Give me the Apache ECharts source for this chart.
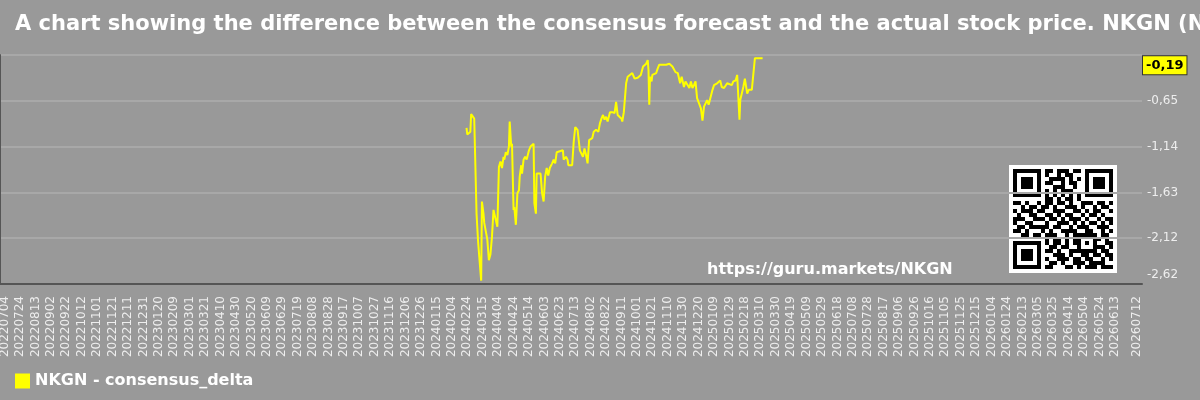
<!DOCTYPE html>
<html>
<head>
<meta charset="utf-8">
<script src="https://cdn.jsdelivr.net/npm/echarts@6/dist/echarts.min.js"></script>
<style>
  html, body { margin: 0; padding: 0; background: #999999; }
  #main { width: 1200px; height: 400px; }
</style>
</head>
<body>
<div id="main"></div>
<script>
// x axis: every calendar day; labels every 20 days from firstLabel, plus lastLabel
const startDay = "20220628";
const endDay = "20260718";
const firstLabel = "20220704";
const lastLabel = "20260712";

// consensus delta (date, value)
const deltaDates = [
  "20240223","20240224","20240228","20240229","20240304","20240306","20240307","20240309","20240311","20240313",
  "20240314","20240316","20240317","20240319","20240321","20240323","20240325","20240327","20240329","20240330",
  "20240401","20240403","20240405","20240407","20240409","20240411","20240412","20240414","20240416","20240418",
  "20240419","20240421","20240422","20240424","20240425","20240427","20240429","20240501","20240502","20240504",
  "20240505","20240507","20240509","20240511","20240514","20240516","20240518","20240520","20240521","20240523",
  "20240524","20240526","20240529","20240531","20240602","20240604","20240606","20240608","20240610","20240613",
  "20240615","20240617","20240619","20240623","20240627","20240628","20240701","20240703","20240704","20240706",
  "20240709","20240711","20240713","20240716","20240717","20240719","20240721","20240723","20240725","20240727",
  "20240729","20240731","20240802","20240804","20240806","20240808","20240809","20240812","20240814","20240816",
  "20240818","20240820","20240822","20240824","20240827","20240830","20240902","20240904","20240906","20240908",
  "20240911","20240912","20240914","20240915","20240917","20240919","20240921","20240925","20240928","20240930",
  "20241002","20241004","20241006","20241009","20241011","20241013","20241015","20241016","20241017","20241018",
  "20241020","20241021","20241023","20241026","20241028","20241030","20241101","20241103","20241108","20241110",
  "20241112","20241114","20241116","20241118","20241120","20241123","20241125","20241126","20241128","20241129",
  "20241201","20241203","20241205","20241208","20241210","20241212","20241214","20241216","20241218","20241220",
  "20241223","20241225","20241227","20241229","20241231","20250102","20250104","20250107","20250109","20250111",
  "20250113","20250115","20250117","20250119","20250122","20250124","20250126","20250128","20250201","20250203",
  "20250206","20250208","20250209","20250211","20250212","20250214","20250216","20250218","20250221","20250223",
  "20250225","20250227","20250301","20250303","20250308","20250313"
];
const deltaValues = [
  -0.94,-1.01,-0.98,-0.79,-0.84,-0.85,-1.86,-2.16,-2.18,-2.58,
  -1.73,-1.86,-1.96,-1.98,-2.14,-2.36,-2.30,-2.11,-1.82,-1.80,
  -1.93,-2.00,-1.36,-1.30,-1.37,-1.25,-1.28,-1.20,-1.23,-1.14,
  -0.87,-1.14,-1.11,-1.82,-1.79,-1.98,-1.64,-1.61,-1.46,-1.34,
  -1.43,-1.28,-1.25,-1.28,-1.18,-1.14,-1.12,-1.11,-1.75,-1.86,
  -1.43,-1.41,-1.43,-1.64,-1.73,-1.46,-1.37,-1.45,-1.37,-1.32,
  -1.28,-1.32,-1.20,-1.19,-1.18,-1.28,-1.25,-1.28,-1.34,-1.36,
  -1.34,-1.09,-0.93,-0.96,-0.96,-1.18,-1.18,-1.25,-1.16,-1.23,
  -1.32,-1.07,-1.05,-1.05,-0.98,-1.00,-0.96,-0.98,-0.89,-0.84,
  -0.80,-0.85,-0.82,-0.87,-0.77,-0.77,-0.78,-0.66,-0.80,-0.78,
  -0.84,-0.87,-0.77,-0.75,-0.46,-0.39,-0.41,-0.35,-0.41,-0.43,
  -0.40,-0.41,-0.37,-0.28,-0.26,-0.25,-0.21,-0.32,-0.69,-0.39,
  -0.44,-0.37,-0.39,-0.35,-0.30,-0.26,-0.25,-0.26,-0.26,-0.27,
  -0.25,-0.26,-0.28,-0.30,-0.34,-0.35,-0.36,-0.46,-0.39,-0.41,
  -0.50,-0.44,-0.46,-0.51,-0.44,-0.51,-0.48,-0.44,-0.62,-0.64,
  -0.73,-0.86,-0.71,-0.69,-0.64,-0.69,-0.69,-0.53,-0.48,-0.50,
  -0.46,-0.46,-0.43,-0.50,-0.51,-0.50,-0.46,-0.48,-0.48,-0.44,
  -0.43,-0.37,-0.39,-0.85,-0.64,-0.62,-0.50,-0.41,-0.57,-0.53,
  -0.55,-0.53,-0.53,-0.19,-0.19,-0.19
];

// y scale
const yMin = -2.616;
const yStep = 0.492;
const yMax = yMin + yStep * 5;

// QR watermark pattern (25x25)
const qrRows = [
  "1111111011011101101111111",
  "1000001010010110001000001",
  "1011101001111010101011101",
  "1011101011001011001011101",
  "1011101000111001001011101",
  "1000001010101110001000001",
  "1111111010101010101111111",
  "0000000011010110100000000",
  "1101001011011010011101101",
  "0010110110100111010010110",
  "1011101100111001101011001",
  "0100110011010110010110100",
  "1110011101101011101001011",
  "1001100010011101010110101",
  "0110111110110010111001110",
  "1101000101001111001100101",
  "0011011011100101111110110",
  "0000000010110101100011010",
  "1111111010110101101010011",
  "1000001001101100100011101",
  "1011101011010011111110110",
  "1011101000111010011011011",
  "1011101010011101101100101",
  "1000001001101001110111100",
  "1111111011000110101110111"
];

function fmt(v) {
  return v.toFixed(2).replace(".", ",");
}

// build day categories
let days = [];
let d = new Date(Date.UTC(2022, 5, 28));
while (true) {
  let s = d.getUTCFullYear() + String(d.getUTCMonth() + 1).padStart(2, "0") + String(d.getUTCDate()).padStart(2, "0");
  days.push(s);
  if (s === endDay) break;
  d.setUTCDate(d.getUTCDate() + 1);
}
const firstIdx = days.indexOf(firstLabel);
const lastIdx = days.indexOf(lastLabel);

let seriesData = deltaDates.map((t, i) => [t, deltaValues[i]]);
let lastValue = deltaValues[deltaValues.length - 1];

// QR rects
let qrModule = 4;
let qrChildren = [{
  type: "rect",
  shape: { x: 0, y: 0, width: 108, height: 108 },
  style: { fill: "#ffffff" }
}];
qrRows.forEach((row, r) => {
  for (let c = 0; c < row.length; c++) {
    if (row[c] === "1") {
      qrChildren.push({
        type: "rect",
        shape: { x: 4 + c * qrModule, y: 4 + r * qrModule, width: qrModule, height: qrModule },
        style: { fill: "#000000" }
      });
    }
  }
});

let myChart = echarts.init(document.getElementById("main"));

let option = {
  backgroundColor: "#999999",
  animation: false,
  textStyle: { fontFamily: "DejaVu Sans" },
  title: {
    text: "A chart showing the difference between the consensus forecast and the actual stock price. NKGN (NKGen Biotech, Inc.)",
    left: 10,
    top: 9,
    textStyle: { color: "#ffffff", fontSize: 21, fontWeight: "bold", fontFamily: "DejaVu Sans" }
  },
  legend: {
    left: 10,
    top: 368,
    itemWidth: 15,
    itemHeight: 15,
    itemGap: 10,
    icon: "rect",
    textStyle: { color: "#ffffff", fontSize: 16, fontWeight: "bold", fontFamily: "DejaVu Sans" },
    data: ["NKGN - consensus_delta"]
  },
  grid: {
    left: 0,
    right: 58,
    top: 55,
    bottom: 116,
    containLabel: false,
    outerBoundsMode: "none"
  },
  xAxis: {
    type: "category",
    data: days,
    boundaryGap: false,
    axisLine: { show: true, lineStyle: { color: "#555555", width: 2 } },
    axisTick: { show: false },
    splitLine: { show: false },
    axisLabel: {
      rotate: 90,
      margin: 12,
      color: "#eeeeee",
      fontSize: 12,
      fontFamily: "DejaVu Sans",
      interval: function(index) {
        if (index === lastIdx) return true;
        return index >= firstIdx && (index - firstIdx) % 20 === 0 && index <= lastIdx - 20;
      }
    }
  },
  yAxis: [
    {
      type: "value",
      position: "right",
      min: yMin,
      max: yMax,
      interval: yStep,
      axisLine: { show: false },
      axisTick: { show: false },
      splitLine: { show: true, lineStyle: { color: "#a8a8a8", width: 2 } },
      axisLabel: {
        showMaxLabel: false,
        margin: 5,
        color: "#eeeeee",
        fontSize: 12,
        fontFamily: "DejaVu Sans",
        formatter: function(v) {
          if (Math.abs(v - yMin) < 1e-6) return "{low|" + fmt(v) + "}";
          return fmt(v);
        },
        rich: {
          low: { color: "#eeeeee", fontSize: 12, fontFamily: "DejaVu Sans", padding: [0, 0, 18, 0] }
        }
      }
    },
    {
      type: "value",
      position: "left",
      axisLine: { show: true, lineStyle: { color: "#555555", width: 2 } },
      axisTick: { show: false },
      axisLabel: { show: false },
      splitLine: { show: false }
    }
  ],
  series: [
    {
      name: "NKGN - consensus_delta",
      type: "line",
      data: seriesData,
      showSymbol: false,
      color: "#ffff00",
      lineStyle: { color: "#ffff00", width: 2 },
      markLine: {
        silent: true,
        symbol: "none",
        lineStyle: { color: "rgba(0,0,0,0)", width: 0, type: "solid" },
        data: [{ yAxis: lastValue }],
        label: {
          show: true,
          position: "end",
          distance: 1,
          padding: [14, 0, 0, 0],
          formatter: function() {
            return "{b|" + fmt(lastValue) + "}";
          },
          rich: {
            b: {
              color: "#000000",
              fontWeight: "bold",
              fontSize: 13,
              fontFamily: "DejaVu Sans",
              backgroundColor: "#ffff00",
              borderColor: "#333333",
              borderWidth: 1,
              padding: [3, 3, 2, 3]
            }
          }
        }
      }
    }
  ],
  graphic: [
    {
      type: "text",
      left: 707,
      top: 262,
      style: {
        text: "https://guru.markets/NKGN",
        fill: "#ffffff",
        font: "bold 16px 'DejaVu Sans'"
      }
    },
    {
      type: "group",
      left: 1009,
      top: 165,
      children: qrChildren
    }
  ]
};

myChart.setOption(option);
</script>
</body>
</html>
